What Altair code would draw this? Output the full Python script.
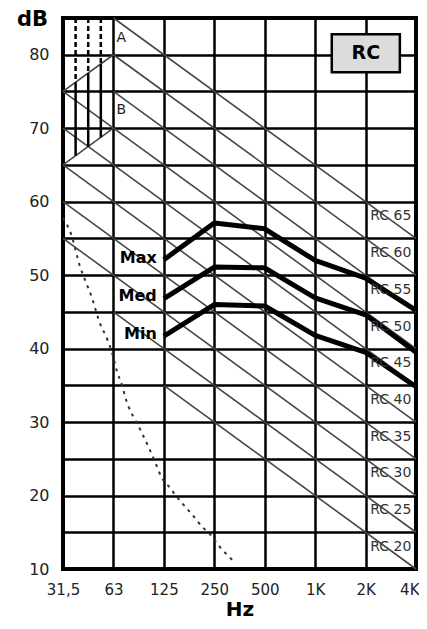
import json
import altair as alt
import pandas as pd

# ---------------- data ----------------
bands = ["31,5", "63", "125", "250", "500", "1K", "2K", "4K"]
band_pos = [0, 1, 2, 3, 4, 5, 6, 7]
db_ticks = [10, 15, 20, 25, 30, 35, 40, 45, 50, 55, 60, 65, 70, 75, 80, 85]

# RC reference curves (-5 dB/octave): start band, start level, level at 4K
rc_levels = [20, 25, 30, 35, 40, 45, 50, 55, 60, 65]
rc_start_band = [2, 1, 0, 0, 0, 0, 0, 1, 1, 1]
rc_start_db = [35, 45, 55, 60, 65, 70, 75, 75, 80, 85]
rc_end_db = [10, 15, 20, 25, 30, 35, 40, 45, 50, 55]

# measured spectra (125 Hz .. 4 kHz)
spec_bands = [2, 3, 4, 5, 6, 7]
max_db = [52.1, 57.1, 56.3, 52.0, 49.6, 45.2]
med_db = [46.8, 51.1, 51.0, 46.9, 44.6, 39.5]
min_db = [41.7, 46.0, 45.8, 41.8, 39.5, 34.8]

# threshold of hearing (dotted)
thr_x = [0.0, 0.17, 0.34, 0.44, 0.57, 0.73, 0.87, 0.97, 1.07, 1.17, 1.23,
         1.53, 1.69, 1.83, 1.96, 2.09, 2.32, 2.55, 2.78, 2.92, 3.11, 3.38]
thr_db = [57.8, 55.4, 51.1, 49.3, 47.0, 43.5, 41.4, 39.5, 36.9, 35.0, 33.5,
          29.0, 26.7, 24.5, 22.4, 21.3, 19.3, 17.5, 15.6, 14.7, 13.0, 11.1]

# regions A / B boundaries
ab_x1 = [0, 0]
ab_y1 = [75, 65]
ab_x2 = [1, 1]
ab_y2 = [80, 70]

# vertical hatching in region A (dashed) and B (solid)
hatch_x = [0.25, 0.5, 0.75]
hatch_top = [85, 85, 85]
hatch_mid = [76.25, 77.5, 78.75]
hatch_bot = [66.25, 67.5, 68.75]

region_labels = ["A", "B"]
region_x = [1.06, 1.06]
region_y = [82.3, 72.5]

box_label = ["RC"]
box_x1, box_x2 = [5.33], [6.68]
box_y1, box_y2 = [77.6], [82.8]

# ---------------- frames ----------------
rc_df = pd.DataFrame({"x": rc_start_band, "y": rc_start_db,
                      "x2": [7] * len(rc_levels), "y2": rc_end_db})
rc_lab_df = pd.DataFrame({"x": [6.5] * len(rc_levels),
                          "y": [v - 7 for v in rc_levels],
                          "t": [f"RC {v}" for v in rc_levels]})
ab_df = pd.DataFrame({"x": ab_x1, "y": ab_y1, "x2": ab_x2, "y2": ab_y2})
hs_df = pd.DataFrame({"x": hatch_x, "y": hatch_mid, "y2": hatch_bot})
hd_df = pd.DataFrame({"x": hatch_x, "y": hatch_top, "y2": hatch_mid})
thr_df = pd.DataFrame({"x": thr_x, "y": thr_db})
spec_rows = []
for name, vals in [("Max", max_db), ("Med", med_db), ("Min", min_db)]:
    for b, v in zip(spec_bands, vals):
        spec_rows.append({"x": b, "y": v, "s": name})
spec_df = pd.DataFrame(spec_rows)
spec_lab_df = pd.DataFrame({"x": [1.86] * 3,
                            "y": [max_db[0] + 0.3, med_db[0] + 0.3, min_db[0] + 0.3],
                            "t": ["Max", "Med", "Min"]})
reg_df = pd.DataFrame({"x": region_x, "y": region_y, "t": region_labels})
box_df = pd.DataFrame({"x": box_x1, "x2": box_x2, "y": box_y1, "y2": box_y2,
                       "t": box_label,
                       "xc": [(box_x1[0] + box_x2[0]) / 2],
                       "yc": [(box_y1[0] + box_y2[0]) / 2]})

# ---------------- scales / axes ----------------
x_scale = alt.Scale(domain=[0, 7], nice=False, zero=False)
y_scale = alt.Scale(domain=[10, 85], nice=False, zero=False)

x_axis = alt.Axis(values=band_pos, labelExpr=json.dumps(bands) + "[datum.value]",
                  title="Hz", grid=True, gridColor="black", gridWidth=2.5, gridOpacity=1,
                  ticks=False, domain=False, labelFont="DejaVu Sans", labelFontSize=15,
                  labelColor="#222", labelPadding=13, labelFlush=False, labelOverlap=False,
                  labelAlign=alt.condition("datum.value == 7", alt.value("right"),
                                           alt.value("center")),
                  labelOffset=alt.condition("datum.value == 7", alt.value(3),
                                            alt.value(0)),
                  titleFont="DejaVu Sans", titleFontSize=20, titleFontWeight="bold",
                  titleColor="black", titleY=40, titleBaseline="middle")
y_axis = alt.Axis(values=db_ticks,
                  labelExpr="datum.value % 10 == 0 ? datum.value : ''",
                  title="dB", grid=True, gridColor="black", gridWidth=2.5, gridOpacity=1,
                  ticks=False, domain=False, labelFont="DejaVu Sans", labelFontSize=16,
                  labelColor="#222", labelPadding=14, labelOverlap=False, labelFlush=False,
                  titleFont="DejaVu Sans", titleFontSize=21, titleFontWeight="bold",
                  titleColor="black", titleAngle=0, titleX=-31, titleY=1,
                  titleAlign="center", titleBaseline="middle")


def X(f="x"):
    return alt.X(f"{f}:Q", scale=x_scale, axis=x_axis)


def Y(f="y"):
    return alt.Y(f"{f}:Q", scale=y_scale, axis=y_axis)


rc_lines = alt.Chart(rc_df).mark_rule(color="#474747", strokeWidth=1.6).encode(
    x=X(), y=Y(), x2="x2:Q", y2="y2:Q")
ab_lines = alt.Chart(ab_df).mark_rule(color="#474747", strokeWidth=1.6).encode(
    x=X(), y=Y(), x2="x2:Q", y2="y2:Q")
hatch_solid = alt.Chart(hs_df).mark_rule(color="black", strokeWidth=2.5).encode(
    x=X(), y=Y(), y2="y2:Q")
hatch_dash = alt.Chart(hd_df).mark_rule(color="black", strokeWidth=2.5,
                                        strokeDash=[5, 3]).encode(
    x=X(), y=Y(), y2="y2:Q")
threshold = alt.Chart(thr_df).mark_line(color="#333", strokeWidth=2,
                                        strokeDash=[3, 5], interpolate="monotone").encode(
    x=X(), y=Y())
spectra = alt.Chart(spec_df).mark_line(color="black", strokeWidth=5,
                                       strokeJoin="round").encode(
    x=X(), y=Y(), detail="s:N")
spec_labels = alt.Chart(spec_lab_df).mark_text(
    align="right", baseline="middle", font="DejaVu Sans", fontWeight="bold",
    fontSize=16, color="black").encode(x=X(), y=Y(), text="t:N")
rc_labels = alt.Chart(rc_lab_df).mark_text(
    align="center", baseline="middle", font="DejaVu Sans", fontSize=14,
    color="#333").encode(x=X(), y=Y(), text="t:N")
reg_labels = alt.Chart(reg_df).mark_text(
    align="left", baseline="middle", font="DejaVu Sans", fontSize=14,
    color="#222").encode(x=X(), y=Y(), text="t:N")
box = alt.Chart(box_df).mark_rect(fill="#dcdcdc", stroke="black", strokeWidth=2.5).encode(
    x=X(), x2="x2:Q", y=Y(), y2="y2:Q")
box_text = alt.Chart(box_df).mark_text(
    align="center", baseline="middle", font="DejaVu Sans", fontWeight="bold",
    fontSize=19, color="black").encode(x=X("xc"), y=Y("yc"), text="t:N")

chart = alt.layer(
    rc_lines, ab_lines, hatch_solid, hatch_dash, threshold, spectra,
    spec_labels, rc_labels, reg_labels, box, box_text
).properties(
    width=353, height=551,
    autosize=alt.AutoSizeParams(type="none"),
    padding={"left": 55, "top": 10, "right": 3, "bottom": 52},
    background="white",
).configure_view(stroke="black", strokeWidth=4)

chart.save("out.html", embed_options={"renderer": "svg", "actions": False})
